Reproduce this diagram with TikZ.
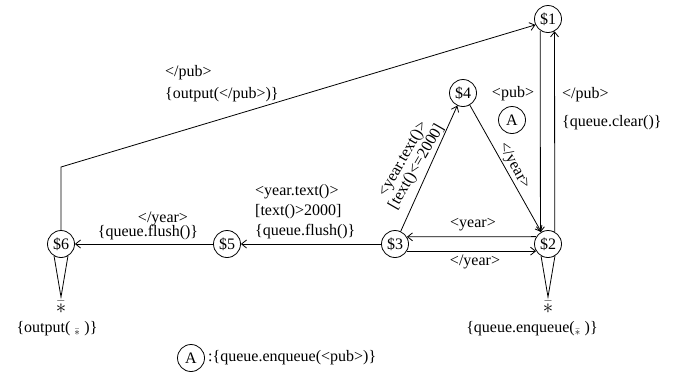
\documentclass[tikz,border=0pt]{standalone}
\usepackage{fontspec}
\setmainfont{Liberation Serif}
\usetikzlibrary{arrows.meta}
\begin{document}
\begin{tikzpicture}[x=1pt,y=-1pt,
  st/.style={draw,circle,minimum size=27pt,inner sep=0pt,line width=0.8pt},
  lbl/.style={inner sep=0pt},
  arr/.style={-{Straight Barb[length=5pt,width=8pt]},line width=0.8pt},
  ln/.style={line width=0.8pt},
  star/.style={inner sep=0pt,font=\fontsize{20}{20}\selectfont},
  font=\fontsize{16}{16}\selectfont]
\useasboundingbox (0,0) rectangle (683,384);
\node[st] (n1) at (548,19) {\$1};
\node[st] (n4) at (463,93) {\$4};
\node[st] (nA) at (512,120) {A};
\node[st] (n2) at (548,244) {\$2};
\node[st] (n3) at (395,244) {\$3};
\node[st] (n5) at (227,244) {\$5};
\node[st] (n6) at (61,244) {\$6};
\node[st] (nL) at (191,358) {A};
\coordinate (c6) at (61,167);
\coordinate (t6) at (61,297);
\coordinate (t2) at (548,297);
\draw[arr] (n1.236.3) -- (n2.123.7);
\draw[arr] (n2.61.2) -- (n1.298.8);
\draw[arr] (n6.north) -- (c6) -- (n1.205);
\draw[arr] (n3) -- (n4);
\draw[arr] (n4) -- (n2);
\draw[arr] (n2.148.8) -- (n3.31.2);
\draw[arr] (n3.-31.2) -- (n2.211.2);
\draw[arr] (n3) -- (n5);
\draw[arr] (n5) -- (n6);
\draw[ln] (n6.240) -- (t6) -- (n6.300);
\draw[ln] (n2.240) -- (t2) -- (n2.300);
\node[lbl,anchor=west] (l1) at (165,73) {</pub>};
\node[lbl,anchor=west] (l2) at (165,95) {\{output(</pub>)\}};
\node[lbl] (l3) at (513,94) {<pub>};
\node[lbl,anchor=west] (l4) at (562,95) {</pub>};
\node[lbl,anchor=west] (l5) at (562,123) {\{queue.clear()\}};
\node[lbl,rotate=60,align=center,font=\fontsize{16}{14}\selectfont] (l6) at (410,163) {<year.text()>\\{}[text()<=2000]};
\node[lbl,rotate=-61] (l7) at (514,166) {</year>};
\node[lbl] (l8) at (473,225) {<year>};
\node[lbl] (l9) at (475,262) {</year>};
\node[lbl,anchor=west] (l10) at (255,192) {<year.text()>};
\node[lbl,anchor=west] (l11) at (255,212) {[text()>2000]};
\node[lbl,anchor=west] (l12) at (255,232) {\{queue.flush()\}};
\node[lbl] (l13) at (163,219) {</year>};
\node[lbl] (l14) at (148,233) {\{queue.flush()\}};
\node[star] (s6) at (61,307) {$\bar{\ast}$};
\node[star] (s2) at (548,307) {$\bar{\ast}$};
\node[lbl] (l15) at (57,329) {\{output( $_{\bar{\ast}}$ )\}};
\node[lbl] (l16) at (532,329) {\{queue.enqueue($_{\bar{\ast}}$ )\}};
\node[lbl,anchor=west] (l17) at (208,358) {:\{queue.enqueue(<pub>)\}};
\end{tikzpicture}
\end{document}
